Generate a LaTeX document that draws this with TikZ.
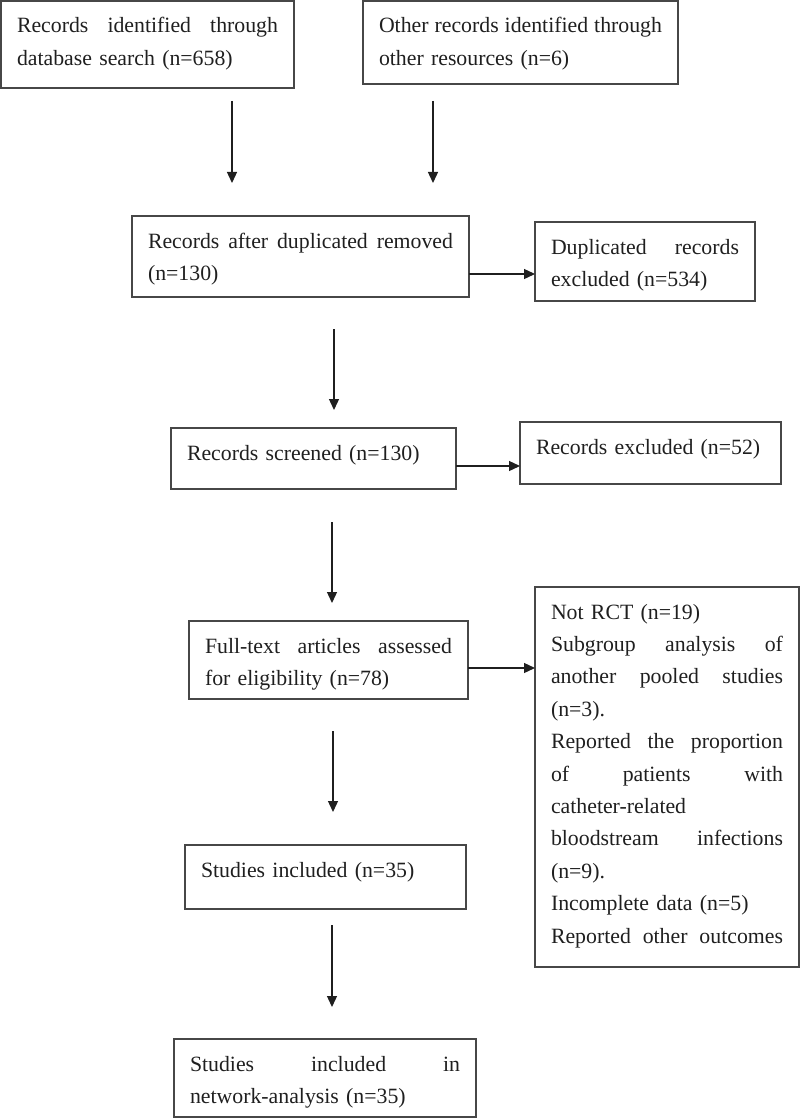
\documentclass[tikz,border=0pt]{standalone}
\usepackage{fontspec}
\setmainfont{Liberation Serif}
\usetikzlibrary{arrows.meta}
\hbadness=10000
\newcommand{\jline}[1]{\leavevmode\hbox to\linewidth{\spaceskip=.25em plus 1fil\xspaceskip=.25em plus 1fil #1}}
\begin{document}
\begin{tikzpicture}[x=1pt,y=-1pt,
  box/.style={draw=black!72, line width=1.4pt, anchor=north west, outer sep=0pt,
    inner xsep=16pt, inner ysep=0pt, text height=32pt, align=left,
    font=\fontsize{21.8pt}{32.4pt}\selectfont, text=black!88},
  arr/.style={draw=black!88, line width=1.3pt, -{Triangle[length=11pt,width=10pt]}}]
\useasboundingbox (0,0) rectangle (800,1118);

\node[box, text width=261pt, text depth=55pt] (A) at (1,1)
  {\jline{Records identified through}\\database search (n=658)};
\node[box, text width=283pt, text depth=51pt] (B) at (363,1)
  {\jline{Other records identified through}\\other resources (n=6)};
\node[box, text width=305pt, text depth=49pt] (C) at (132,216)
  {\jline{Records after duplicated removed}\\(n=130)};
\node[box, text width=188pt, text depth=47pt] (D) at (535,222)
  {\jline{Duplicated records}\\excluded (n=534)};
\node[box, text width=253pt, text depth=29pt] (E) at (171,428)
  {Records screened (n=130)};
\node[box, text width=229pt, text depth=30pt] (X) at (520,422)
  {Records excluded (n=52)};
\node[box, text width=247pt, text depth=46pt] (F) at (189,621)
  {\jline{Full-text articles assessed}\\for eligibility (n=78)};
\node[box, text width=232pt, text depth=348pt] (H) at (535,587)
  {Not RCT (n=19)\\%
   \jline{Subgroup analysis of}\\%
   \jline{another pooled studies}\\%
   (n=3).\\%
   \jline{Reported the proportion}\\%
   \jline{of patients with}\\%
   catheter-related\\%
   \jline{bloodstream infections}\\%
   (n=9).\\%
   Incomplete data (n=5)\\%
   \jline{Reported other outcomes}};
\node[box, text width=249pt, text depth=32pt] (G) at (185,845)
  {Studies included (n=35)};
\node[box, text width=270pt, text depth=46pt] (I) at (174,1039)
  {\jline{Studies included in}\\network-analysis (n=35)};

% x positions of the vertical connectors
\coordinate (ax) at (232,0);
\coordinate (bx) at (433,0);
\coordinate (cx) at (334,0);
\coordinate (ex) at (332,0);
\coordinate (fx) at (333,0);
\coordinate (gx) at (332,0);

\draw[arr, shorten <=13pt, shorten >=33pt] (A.south -| ax) -- (C.north -| ax);
\draw[arr, shorten <=17pt, shorten >=33pt] (B.south -| bx) -- (C.north -| bx);
\draw[arr, shorten <=32pt, shorten >=18pt] (C.south -| cx) -- (E.north -| cx);
\draw[arr, shorten <=33pt, shorten >=18pt] (E.south -| ex) -- (F.north -| ex);
\draw[arr, shorten <=32pt, shorten >=33pt] (F.south -| fx) -- (G.north -| fx);
\draw[arr, shorten <=16pt, shorten >=32pt] (G.south -| gx) -- (I.north -| gx);

% horizontal connectors
\coordinate (c1) at ([yshift=-17.5pt]C.east);
\coordinate (e1) at ([yshift=-7.5pt]E.east);
\coordinate (f1) at ([yshift=-8pt]F.east);
\draw[arr] (c1) -- (c1 -| D.west);
\draw[arr] (e1) -- (e1 -| X.west);
\draw[arr] (f1) -- (f1 -| H.west);
\end{tikzpicture}
\end{document}
